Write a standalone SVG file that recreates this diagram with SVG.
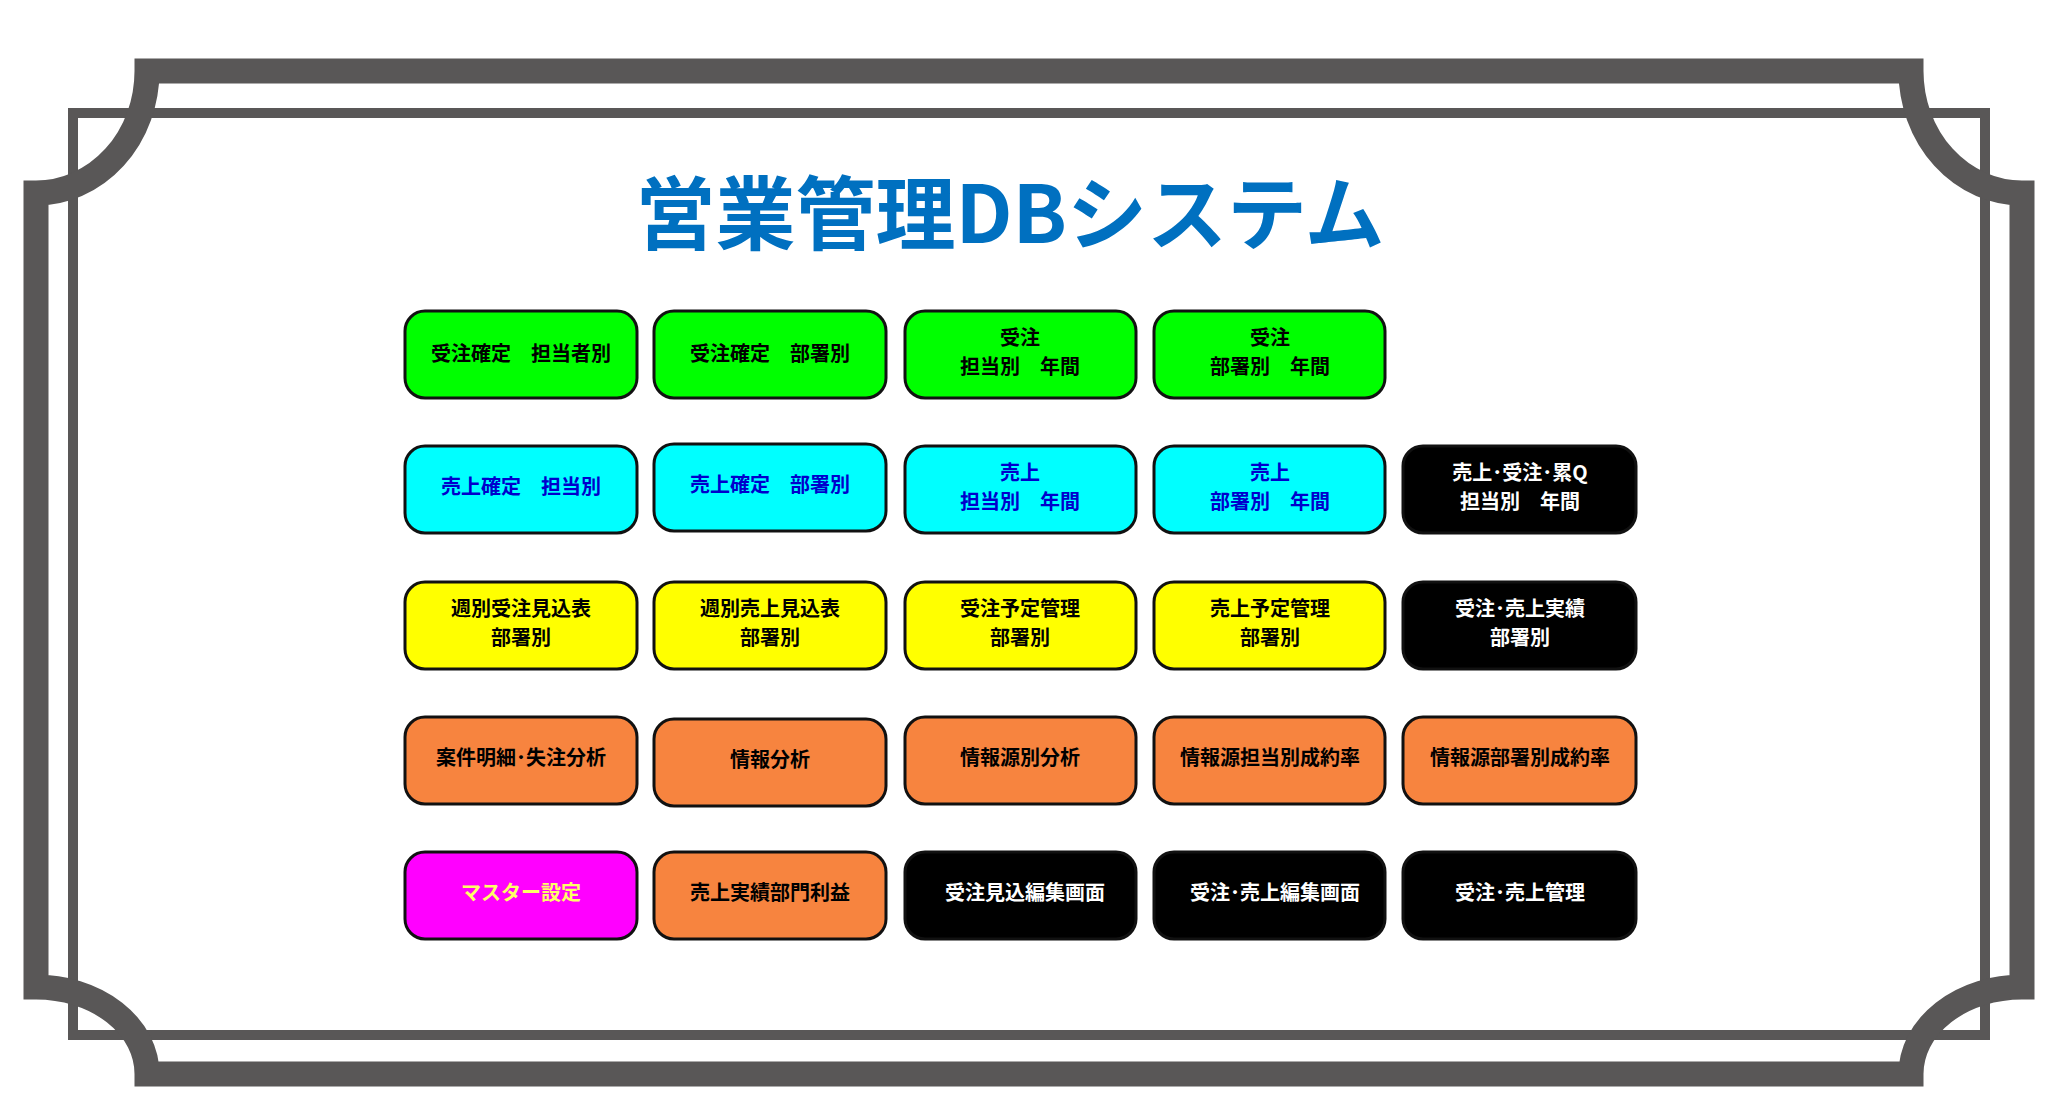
<svg xmlns="http://www.w3.org/2000/svg" width="2058" height="1117" viewBox="0 0 2058 1117">
<style>
.f{fill:none;stroke:#595757}
.o{stroke-width:25}
.i{stroke-width:10}
.b{stroke:#111;stroke-width:3}
.t{font-family:"Noto Sans CJK JP","Liberation Sans",sans-serif;font-weight:bold;font-size:20px;text-anchor:middle}
.g{fill:#00FF00}.c{fill:#00FFFF}.y{fill:#FFFF00}.r{fill:#F7843F}.m{fill:#FF00FF}.k{fill:#000}
.tk{fill:#000}.tb{fill:#0000CC}.tw{fill:#fff}.ty{fill:#FFFF66}
</style>
<rect width="2058" height="1117" fill="#fff"/>
<g id="frame">
<rect class="f i" x="73" y="113" width="1912" height="922"/>
<path class="f o" d="M147,71 H1911 A111,122 0 0 0 2022,193 V987 A111,87 0 0 0 1911,1074 H147 A111,87 0 0 0 36,987 V193 A111,122 0 0 0 147,71 Z"/>
</g>
<text id="title" x="1010" y="243" style="font-family:'Noto Sans CJK JP','Liberation Sans',sans-serif;font-weight:bold;font-size:80px;text-anchor:middle;fill:#0070C0">営業管理DBシステム</text>
<g id="connectors"/>
<g id="n1"><rect class="b g" x="405" y="311" width="232" height="87" rx="20"/><text class="t tk" x="521" y="361">受注確定　担当者別</text></g>
<g id="n2"><rect class="b g" x="654" y="311" width="232" height="87" rx="20"/><text class="t tk" x="770" y="361">受注確定　部署別</text></g>
<g id="n3"><rect class="b g" x="905" y="311" width="231" height="87" rx="20"/><text class="t tk" x="1020" y="345">受注</text><text class="t tk" x="1020" y="374">担当別　年間</text></g>
<g id="n4"><rect class="b g" x="1154" y="311" width="231" height="87" rx="20"/><text class="t tk" x="1270" y="345">受注</text><text class="t tk" x="1270" y="374">部署別　年間</text></g>

<g id="n5"><rect class="b c" x="405" y="446" width="232" height="87" rx="20"/><text class="t tb" x="521" y="494">売上確定　担当別</text></g>
<g id="n6"><rect class="b c" x="654" y="444" width="232" height="87" rx="20"/><text class="t tb" x="770" y="492">売上確定　部署別</text></g>
<g id="n7"><rect class="b c" x="905" y="446" width="231" height="87" rx="20"/><text class="t tb" x="1020" y="480">売上</text><text class="t tb" x="1020" y="509">担当別　年間</text></g>
<g id="n8"><rect class="b c" x="1154" y="446" width="231" height="87" rx="20"/><text class="t tb" x="1270" y="480">売上</text><text class="t tb" x="1270" y="509">部署別　年間</text></g>
<g id="n9"><rect class="b k" x="1403" y="446" width="233" height="87" rx="20" stroke="#888"/><text class="t tw" x="1520" y="480">売上･受注･累Q</text><text class="t tw" x="1520" y="509">担当別　年間</text></g>

<g id="n10"><rect class="b y" x="405" y="582" width="232" height="87" rx="20"/><text class="t tk" x="521" y="616">週別受注見込表</text><text class="t tk" x="521" y="645">部署別</text></g>
<g id="n11"><rect class="b y" x="654" y="582" width="232" height="87" rx="20"/><text class="t tk" x="770" y="616">週別売上見込表</text><text class="t tk" x="770" y="645">部署別</text></g>
<g id="n12"><rect class="b y" x="905" y="582" width="231" height="87" rx="20"/><text class="t tk" x="1020" y="616">受注予定管理</text><text class="t tk" x="1020" y="645">部署別</text></g>
<g id="n13"><rect class="b y" x="1154" y="582" width="231" height="87" rx="20"/><text class="t tk" x="1270" y="616">売上予定管理</text><text class="t tk" x="1270" y="645">部署別</text></g>
<g id="n14"><rect class="b k" x="1403" y="582" width="233" height="87" rx="20" stroke="#888"/><text class="t tw" x="1520" y="616">受注･売上実績</text><text class="t tw" x="1520" y="645">部署別</text></g>

<g id="n15"><rect class="b r" x="405" y="717" width="232" height="87" rx="20"/><text class="t tk" x="521" y="765">案件明細･失注分析</text></g>
<g id="n16"><rect class="b r" x="654" y="719" width="232" height="87" rx="20"/><text class="t tk" x="770" y="767">情報分析</text></g>
<g id="n17"><rect class="b r" x="905" y="717" width="231" height="87" rx="20"/><text class="t tk" x="1020" y="765">情報源別分析</text></g>
<g id="n18"><rect class="b r" x="1154" y="717" width="231" height="87" rx="20"/><text class="t tk" x="1270" y="765">情報源担当別成約率</text></g>
<g id="n19"><rect class="b r" x="1403" y="717" width="233" height="87" rx="20"/><text class="t tk" x="1520" y="765">情報源部署別成約率</text></g>

<g id="n20"><rect class="b m" x="405" y="852" width="232" height="87" rx="20"/><text class="t ty" x="521" y="900">マスター設定</text></g>
<g id="n21"><rect class="b r" x="654" y="852" width="232" height="87" rx="20"/><text class="t tk" x="770" y="900">売上実績部門利益</text></g>
<g id="n22"><rect class="b k" x="905" y="852" width="231" height="87" rx="20" stroke="#888"/><text class="t tw" x="1025" y="900">受注見込編集画面</text></g>
<g id="n23"><rect class="b k" x="1154" y="852" width="231" height="87" rx="20" stroke="#888"/><text class="t tw" x="1275" y="900">受注･売上編集画面</text></g>
<g id="n24"><rect class="b k" x="1403" y="852" width="233" height="87" rx="20" stroke="#888"/><text class="t tw" x="1520" y="900">受注･売上管理</text></g>
</svg>
